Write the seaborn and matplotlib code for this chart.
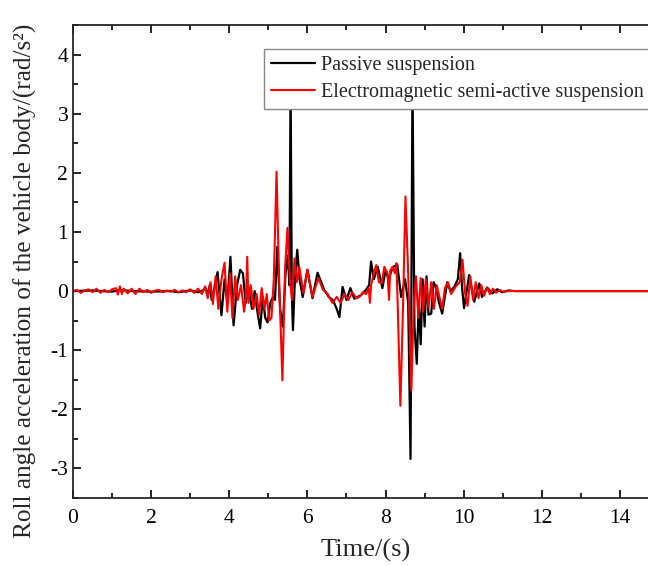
import numpy as np
import pandas as pd
import seaborn as sns
import matplotlib.pyplot as plt
from matplotlib.ticker import MultipleLocator

# passive suspension (black)
passive_t = [0.0, 0.5, 1.0, 1.2, 1.5, 2.0, 2.5, 2.7, 3.0, 3.2, 3.30, 3.40, 3.45, 3.50,
             3.55, 3.62, 3.70, 3.80, 3.88, 3.95, 4.03, 4.11, 4.20, 4.28, 4.35, 4.42,
             4.50, 4.58, 4.65, 4.72, 4.79, 4.86, 4.92, 4.98, 5.05, 5.12, 5.17, 5.23,
             5.30, 5.37, 5.44, 5.50, 5.54, 5.57, 5.60, 5.63, 5.68, 5.74, 5.80, 5.88,
             6.00, 6.13, 6.26, 6.43, 6.55, 6.65, 6.75, 6.82, 6.90, 7.00, 7.10, 7.20,
             7.37, 7.50, 7.58, 7.63, 7.70, 7.80, 7.92, 8.00, 8.08, 8.18, 8.30, 8.40,
             8.50, 8.58, 8.64, 8.69, 8.74, 8.80, 8.85, 8.90, 8.95, 9.00, 9.05, 9.10,
             9.17, 9.23, 9.29, 9.37, 9.45, 9.58, 9.66, 9.76, 9.85, 9.91, 9.96, 10.01,
             10.14, 10.27, 10.40, 10.47, 10.60, 10.73, 10.86, 10.98, 11.15, 11.3, 15.0]
passive_v = [0.00, 0.01, -0.01, 0.02, 0.00, -0.01, 0.00, -0.02, 0.01, -0.02, 0.00, 0.05, -0.08, 0.10,
             -0.15, 0.05, 0.32, -0.41, 0.20, -0.20, 0.58, -0.58, 0.10, 0.36, 0.30, -0.20,
             0.05, -0.30, 0.00, -0.35, -0.63, -0.10, -0.45, -0.53, -0.20, -0.10, -0.15, 0.75,
             -0.30, -0.60, 0.30, 0.60, 0.10, 3.60, 0.00, -0.66, 0.20, 0.70, 0.20, -0.10,
             0.36, -0.12, 0.31, 0.02, -0.10, -0.15, -0.30, -0.44, 0.07, -0.15, 0.05, -0.13,
             -0.07, 0.02, 0.10, 0.50, 0.20, 0.41, 0.05, 0.35, 0.20, 0.40, 0.45, -0.10,
             0.20, -0.20, -2.84, 3.60, -0.60, -1.23, -0.20, -0.90, 0.20, -0.60, 0.25, -0.40,
             -0.38, 0.15, 0.07, -0.20, -0.38, 0.15, 0.00, 0.07, 0.20, 0.64, 0.05, -0.29,
             0.27, -0.18, 0.13, -0.10, 0.06, -0.04, 0.03, -0.02, 0.01, 0.00, 0.00]

# electromagnetic semi-active suspension (red)
semi_t = [0.0, 0.1, 0.2, 0.3, 0.4, 0.5, 0.6, 0.7, 0.8, 0.9, 1.0, 1.1, 1.15, 1.2, 1.25,
          1.3, 1.4, 1.5, 1.6, 1.7, 1.8, 1.9, 2.0, 2.1, 2.2, 2.3, 2.4, 2.5, 2.6, 2.7,
          2.8, 2.9, 3.0, 3.1, 3.2, 3.3, 3.38, 3.45, 3.52, 3.58, 3.65, 3.72, 3.80, 3.88,
          3.95, 4.02, 4.08, 4.15, 4.22, 4.30, 4.38, 4.43, 4.46, 4.49, 4.55, 4.62, 4.70,
          4.76, 4.83, 4.90, 4.96, 5.02, 5.08, 5.14, 5.21, 5.28, 5.36, 5.43, 5.49, 5.55,
          5.61, 5.67, 5.73, 5.79, 5.90, 6.00, 6.13, 6.28, 6.40, 6.52, 6.64, 6.75, 6.85,
          6.95, 7.05, 7.15, 7.25, 7.33, 7.42, 7.50, 7.57, 7.60, 7.63, 7.70, 7.76, 7.83,
          7.90, 7.97, 8.05, 8.09, 8.12, 8.18, 8.24, 8.28, 8.31, 8.38, 8.45, 8.51, 8.58,
          8.66, 8.72, 8.78, 8.84, 8.90, 8.96, 9.03, 9.10, 9.17, 9.24, 9.31, 9.38, 9.45,
          9.52, 9.60, 9.68, 9.80, 9.90, 9.97, 10.04, 10.10, 10.17, 10.24, 10.31, 10.38,
          10.45, 10.52, 10.60, 10.67, 10.75, 10.83, 10.92, 11.0, 11.2, 15.0]
semi_v = [0.00, 0.02, -0.03, 0.01, 0.03, -0.02, 0.04, -0.03, 0.02, -0.02, 0.03, 0.05, -0.06, 0.08, -0.05,
          0.04, -0.04, 0.04, -0.05, 0.04, -0.02, 0.02, -0.03, 0.01, 0.02, -0.02, 0.01, -0.01, 0.02, -0.02,
          0.01, -0.02, 0.03, -0.03, 0.04, -0.05, 0.08, -0.12, 0.15, -0.22, 0.25, -0.30, 0.20, 0.48,
          -0.35, 0.30, -0.45, 0.25, -0.15, 0.10, -0.35, -0.10, 0.58, -0.20, 0.10, -0.30, -0.05,
          -0.40, 0.05, -0.30, -0.05, -0.50, -0.45, 0.20, 2.02, 0.10, -1.51, 0.40, 1.07, 0.20,
          -0.15, 0.55, 0.15, 0.41, -0.03, 0.36, -0.10, 0.22, 0.02, -0.05, -0.20, -0.10, -0.20,
          -0.05, -0.15, -0.02, -0.12, -0.10, -0.02, -0.05, 0.05, -0.20, 0.10, 0.30, 0.44, 0.15,
          0.13, 0.41, 0.30, -0.15, 0.35, 0.41, 0.30, 0.47, -0.20, -1.94, -0.20, 1.60, 0.30,
          -1.68, -0.30, 0.25, -0.45, 0.22, -0.35, 0.20, -0.28, 0.15, -0.30, 0.10, -0.10, -0.30,
          0.05, 0.15, -0.05, 0.08, 0.15, 0.53, -0.05, -0.25, 0.25, -0.15, 0.15, -0.12,
          0.10, -0.08, 0.06, -0.05, 0.04, -0.03, 0.02, -0.01, 0.00, 0.00]

legend_labels = ["Passive suspension", "Electromagnetic semi-active suspension"]

sns.set_style("ticks")
plt.rcParams['font.family'] = ['Liberation Serif', 'DejaVu Serif']
plt.rcParams['axes.unicode_minus'] = False

fig = plt.figure(figsize=(6.48, 5.66), dpi=100)
# axes runs past the right edge of the picture, like the cropped original
ax = fig.add_axes([73 / 648, 68 / 566, 586 / 648, 473 / 566])

passive = pd.DataFrame({"t": passive_t, "v": passive_v})
semi = pd.DataFrame({"t": semi_t, "v": semi_v})
sns.lineplot(data=passive, x="t", y="v", color="black", lw=1.6, estimator=None,
             sort=False, label=legend_labels[0], ax=ax)
sns.lineplot(data=semi, x="t", y="v", color="red", lw=1.5, estimator=None,
             sort=False, label=legend_labels[1], ax=ax)

ax.set_xlim(0, 15)
ax.set_ylim(-3.5, 4.5)
ax.xaxis.set_major_locator(MultipleLocator(2))
ax.xaxis.set_minor_locator(MultipleLocator(1))
ax.yaxis.set_major_locator(MultipleLocator(1))
ax.yaxis.set_minor_locator(MultipleLocator(0.5))
ax.tick_params(which="both", direction="in", top=True, right=False, width=1.2,
               labelsize=15.5, colors="black")
ax.tick_params(which="major", length=6)
ax.tick_params(which="minor", length=3.5)
ax.tick_params(axis="x", pad=8)
for s in ax.spines.values():
    s.set_linewidth(1.3)
ax.spines["right"].set_visible(False)

ax.set_xlabel("Time/(s)", fontsize=19, labelpad=8)
ax.set_ylabel("Roll angle acceleration of the vehicle body/(rad/s²)", fontsize=18.2)
ax.yaxis.set_label_coords(-0.062, 0.46)

leg = ax.legend(loc="upper left", bbox_to_anchor=(264 / 648, 1 - 49 / 566),
                bbox_transform=fig.transFigure, fontsize=14.5, frameon=True,
                fancybox=False, framealpha=1, edgecolor="#888888", borderpad=0.35,
                handlelength=2.2, handletextpad=0.3, labelspacing=0.4,
                borderaxespad=0)
leg.get_frame().set_linewidth(1.0)

fig.savefig("out.png", dpi=100)
